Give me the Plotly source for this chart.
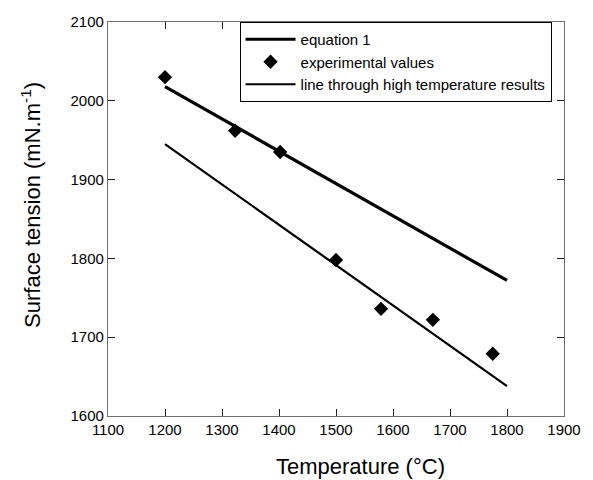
import plotly.graph_objects as go

# Experimental values
temp_exp = [1200, 1323, 1402, 1500, 1579, 1670, 1775]
st_exp = [2030, 1962, 1935, 1798, 1736, 1722, 1679]

# equation 1 line (end points)
temp_eq1 = [1200, 1800]
st_eq1 = [2018, 1772]

# line through high temperature results
temp_high = [1200, 1800]
st_high = [1945, 1638]

x_ticks = [1100, 1200, 1300, 1400, 1500, 1600, 1700, 1800, 1900]
y_ticks = [1600, 1700, 1800, 1900, 2000, 2100]

FONT = "Liberation Sans, Arial, sans-serif"

fig = go.Figure()
fig.add_trace(go.Scatter(x=temp_eq1, y=st_eq1, mode="lines", name="equation 1",
                         line=dict(color="black", width=3.2)))
fig.add_trace(go.Scatter(x=temp_exp, y=st_exp, mode="markers", name="experimental values",
                         marker=dict(symbol="diamond", color="black", size=11)))
fig.add_trace(go.Scatter(x=temp_high, y=st_high, mode="lines",
                         name="line through high temperature results",
                         line=dict(color="black", width=2.2)))

axis_common = dict(showgrid=False, zeroline=False, showline=True, linecolor="#707070",
                   linewidth=1.3, mirror="ticks", ticks="inside", ticklen=7,
                   tickcolor="#202020", tickwidth=1.3,
                   tickfont=dict(family=FONT, size=15, color="black"))

fig.update_xaxes(range=[1100, 1900], tickvals=x_ticks, ticktext=[str(v) for v in x_ticks],
                 **axis_common)
fig.update_yaxes(range=[1600, 2100], tickvals=y_ticks, ticktext=[str(v) for v in y_ticks],
                 **axis_common)

# axis titles
fig.add_annotation(text="Temperature (°C)", xref="paper", yref="paper", x=0.553, y=-0.127,
                   xanchor="center", yanchor="middle", showarrow=False,
                   font=dict(family=FONT, size=22, color="black"))
fig.add_annotation(text="Surface tension (mN.m<sup>-1</sup>)", xref="paper", yref="paper",
                   x=-0.169, y=0.5355, xanchor="center", yanchor="middle", showarrow=False,
                   textangle=-90, font=dict(family=FONT, size=22, color="black"))

# legend drop shadow
fig.add_shape(type="rect", xref="paper", yref="paper", x0=0.296, x1=0.972, y0=0.798, y1=0.99,
              fillcolor="black", line=dict(width=0), layer="above")

fig.update_layout(
    width=593, height=480,
    margin=dict(l=108, r=22, t=22, b=64),
    paper_bgcolor="white", plot_bgcolor="white",
    showlegend=True,
    legend=dict(x=0.2885, y=1.0, xanchor="left", yanchor="top",
                bgcolor="white", bordercolor="black", borderwidth=1,
                font=dict(family=FONT, size=15, color="black"),
                tracegroupgap=0, itemwidth=50),
    font=dict(family=FONT),
)

fig.write_html("out.html")
